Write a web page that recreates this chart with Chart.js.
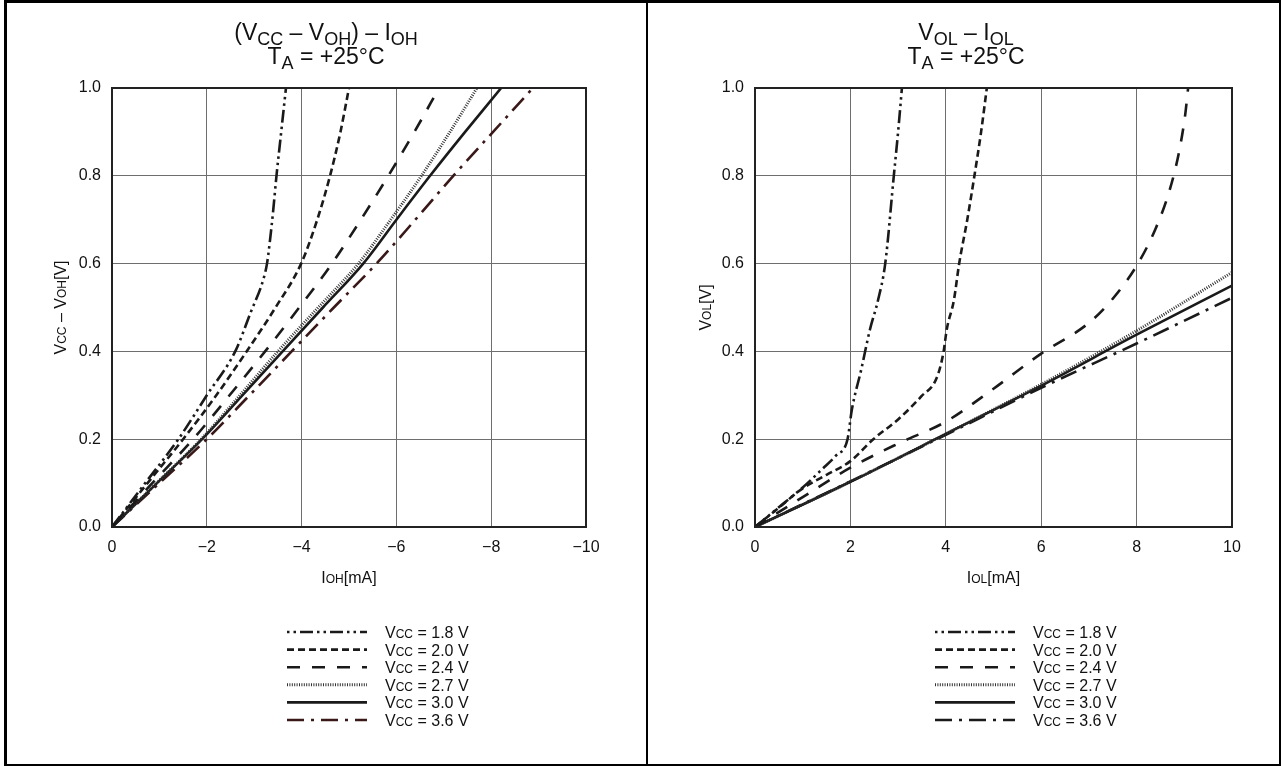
<!DOCTYPE html>
<html>
<head>
<meta charset="utf-8">
<script src="https://cdn.jsdelivr.net/npm/chart.js@4.4.1/dist/chart.umd.min.js"></script>
<style>
  body { margin: 0; background: #fff; }
  canvas { position: absolute; top: 0; }
  #left { left: 0; }
  #right { left: 648px; }
  .frame { position: absolute; background: #000; }
</style>
</head>
<body>
<canvas id="left" width="646" height="766"></canvas>
<canvas id="right" width="634" height="766"></canvas>
<div class="frame" style="left:4px;top:0;width:1277px;height:2.5px"></div>
<div class="frame" style="left:4px;top:763.5px;width:1277px;height:2.5px"></div>
<div class="frame" style="left:4px;top:0;width:2.5px;height:766px"></div>
<div class="frame" style="left:1278.5px;top:0;width:2.5px;height:766px"></div>
<div class="frame" style="left:645.5px;top:0;width:2.5px;height:766px"></div>
<script>
const FONT = '"Liberation Sans", Arial, Helvetica, sans-serif';

const vccLabels = ["1.8", "2.0", "2.4", "2.7", "3.0", "3.6"];
const yTicks = [0, 0.2, 0.4, 0.6, 0.8, 1.0];

// Left panel: (Vcc - Voh) vs Ioh
const vLevels = [0, 0.1, 0.2, 0.3, 0.4, 0.5, 0.6, 0.7, 0.8, 0.9, 1.0];
const ohI18 = [0, -0.7, -1.4, -2.0, -2.6, -2.93, -3.19, -3.27, -3.33, -3.40, -3.47, -3.57, -3.67];
const ohV18 = [0, 0.1, 0.2, 0.3, 0.4, 0.49, 0.563, 0.6, 0.65, 0.72, 0.8, 0.9, 1.0];
const ohI20 = [0, -0.75, -1.5, -2.2, -2.84, -3.45, -3.99, -4.33, -4.6, -4.82, -5.0];
const ohI24 = [0, -0.85, -1.71, -2.48, -3.23, -3.95, -4.64, -5.25, -5.83, -6.38, -6.9];
const ohI27 = [0, -0.94, -1.88, -2.7, -3.5, -4.35, -5.2, -5.88, -6.53, -7.13, -7.7];
const ohI30 = [0, -0.95, -1.9, -2.75, -3.6, -4.45, -5.3, -6.0, -6.71, -7.45, -8.21];
const ohI36 = [0, -1.0, -2.0, -2.9, -3.79, -4.68, -5.58, -6.4, -7.2, -8.04, -8.88];

// Right panel: Vol vs Iol
const olI18 = [0, 0.5, 1.0, 1.4, 1.7, 1.94, 2.03, 2.23, 2.41, 2.58, 2.73, 2.91, 3.0, 3.08];
const olV18 = [0, 0.045, 0.09, 0.131, 0.163, 0.2, 0.267, 0.36, 0.45, 0.517, 0.6, 0.8, 0.9, 1.0];
const olI20 = [0, 0.5, 1.0, 1.5, 2.0, 2.48, 3.0, 3.49, 3.81, 3.95, 4.02, 4.17, 4.28, 4.45, 4.6, 4.74, 4.86];
const olV20 = [0, 0.044, 0.088, 0.119, 0.15, 0.2, 0.245, 0.298, 0.34, 0.397, 0.45, 0.517, 0.6, 0.7, 0.8, 0.9, 1.0];
const olI24 = [0, 1, 2, 3, 4, 5, 6, 7, 7.5, 8, 8.4, 8.7, 8.9, 9.02, 9.08];
const olV24 = [0, 0.068, 0.135, 0.19, 0.24, 0.315, 0.395, 0.465, 0.52, 0.595, 0.68, 0.77, 0.86, 0.94, 1.0];
const olILin = [0, 2, 4, 6, 8, 10];
const olV27 = [0, 0.103, 0.212, 0.325, 0.447, 0.58];
const olV30 = [0, 0.103, 0.212, 0.322, 0.438, 0.55];
const olV36 = [0, 0.104, 0.21, 0.317, 0.418, 0.522];

const lineStyles = [
  { color: "#1a1a1a", width: 2.6, dash: [13, 4, 2.5, 4, 2.5, 4], legendOffset: 17 },
  { color: "#1a1a1a", width: 2.6, dash: [7, 4] },
  { color: "#1a1a1a", width: 2.6, dash: [13, 12] },
  { color: "#333333", width: 3, dash: [1, 1.4] },
  { color: "#1a1a1a", width: 2.6, dash: [] },
  { color: "#1a1a1a", width: 2.6, dash: [17, 7, 3, 7] }
];

function zip(xs, ys) {
  return xs.map((x, i) => ({ x, y: ys[i] }));
}

function makeDatasets(series, lastColor) {
  return series.map((data, i) => {
    const st = lineStyles[i];
    const color = i === 5 && lastColor ? lastColor : st.color;
    return {
      label: `Vcc = ${vccLabels[i]} V`,
      data,
      borderColor: color,
      borderWidth: st.width,
      borderDash: st.dash,
      pointRadius: 0,
      fill: false,
      cubicInterpolationMode: "monotone"
    };
  });
}

// text with subscripts / small caps: runs of [text, size, dy]
function drawRuns(ctx, runs, x, y, align) {
  let w = 0;
  runs.forEach(([t, s]) => {
    ctx.font = `${s}px ${FONT}`;
    w += ctx.measureText(t).width;
  });
  let cx = align === "center" ? x - w / 2 : x;
  runs.forEach(([t, s, dy]) => {
    ctx.font = `${s}px ${FONT}`;
    ctx.fillText(t, cx, y + (dy || 0));
    cx += ctx.measureText(t).width;
  });
}

const decorPlugin = {
  id: "decor",
  afterDraw(chart, args, opts) {
    const { ctx, chartArea: a } = chart;
    ctx.save();
    ctx.fillStyle = "#111";
    ctx.textBaseline = "alphabetic";

    // plot frame
    ctx.strokeStyle = "#222";
    ctx.lineWidth = 2;
    ctx.strokeRect(a.left, a.top, a.right - a.left, a.bottom - a.top);

    // titles
    opts.title.forEach((runs, i) => drawRuns(ctx, runs, opts.titleX, 40 + i * 24, "center"));

    // x axis title
    drawRuns(ctx, opts.xTitle, (a.left + a.right) / 2, 583, "center");

    // y axis title (rotated)
    ctx.save();
    ctx.translate(opts.yTitleX, (a.top + a.bottom) / 2);
    ctx.rotate(-Math.PI / 2);
    drawRuns(ctx, opts.yTitle, 0, 6, "center");
    ctx.restore();

    // legend, one row per dataset
    chart.data.datasets.forEach((ds, i) => {
      const y = opts.legendY + i * opts.legendDy;
      ctx.save();
      ctx.strokeStyle = ds.borderColor;
      ctx.lineWidth = ds.borderWidth;
      ctx.setLineDash(ds.borderDash);
      ctx.lineDashOffset = lineStyles[i].legendOffset || 0;
      ctx.beginPath();
      ctx.moveTo(opts.legendX, y);
      ctx.lineTo(opts.legendX + opts.legendLen, y);
      ctx.stroke();
      ctx.restore();
      drawRuns(ctx, [["V", 16], ["CC", 12], [` = ${vccLabels[i]} V`, 16]], opts.legendTextX, y + 6, "left");
    });
    ctx.restore();
  }
};

function axisOptions(xMin, xMax, reverse) {
  return {
    x: {
      type: "linear",
      min: xMin,
      max: xMax,
      reverse,
      afterFit: (s) => { s.height = 40; },
      border: { display: false },
      grid: { color: "#6e6e6e", lineWidth: 1, drawTicks: false },
      ticks: {
        stepSize: 2,
        padding: 11,
        color: "#111",
        font: { family: FONT, size: 16 },
        callback: (v) => (v < 0 ? "\u2212" + Math.abs(v) : String(v))
      }
    },
    y: {
      type: "linear",
      min: 0,
      max: 1,
      afterFit: (s) => { s.width = 40; },
      afterBuildTicks: (s) => { s.ticks = yTicks.map((v) => ({ value: v })); },
      border: { display: false },
      grid: { color: "#6e6e6e", lineWidth: 1, drawTicks: false },
      ticks: {
        padding: 11,
        color: "#111",
        font: { family: FONT, size: 16 },
        callback: (v) => v.toFixed(1)
      }
    }
  };
}

const T = 23, S = 18, D = 5;

new Chart(document.getElementById("left"), {
  type: "line",
  data: {
    datasets: makeDatasets([
      zip(ohI18, ohV18),
      zip(ohI20, vLevels),
      zip(ohI24, vLevels),
      zip(ohI27, vLevels),
      zip(ohI30, vLevels),
      zip(ohI36, vLevels)
    ], "#3a1818")
  },
  options: {
    responsive: false,
    animation: false,
    layout: { padding: { left: 72, top: 88, right: 60, bottom: 199 } },
    scales: axisOptions(-10, 0, true),
    plugins: {
      legend: { display: false },
      tooltip: { enabled: false },
      decor: {
        titleX: 326,
        title: [
          [["(V", T], ["CC", S, D], [" \u2013 V", T], ["OH", S, D], [") \u2013 I", T], ["OH", S, D]],
          [["T", T], ["A", S, D], [" = +25\u00B0C", T]]
        ],
        xTitle: [["I", 16], ["OH", 12], ["[mA]", 16]],
        yTitle: [["V", 16], ["CC", 12], [" \u2013 V", 16], ["OH", 12], ["[V]", 16]],
        yTitleX: 60,
        legendX: 287,
        legendLen: 80,
        legendTextX: 385,
        legendY: 632,
        legendDy: 17.6
      }
    }
  },
  plugins: [decorPlugin]
});

new Chart(document.getElementById("right"), {
  type: "line",
  data: {
    datasets: makeDatasets([
      zip(olI18, olV18),
      zip(olI20, olV20),
      zip(olI24, olV24),
      zip(olILin, olV27),
      zip(olILin, olV30),
      zip(olILin, olV36)
    ])
  },
  options: {
    responsive: false,
    animation: false,
    layout: { padding: { left: 67, top: 88, right: 50, bottom: 199 } },
    scales: axisOptions(0, 10, false),
    plugins: {
      legend: { display: false },
      tooltip: { enabled: false },
      decor: {
        titleX: 318,
        title: [
          [["V", T], ["OL", S, D], [" \u2013 I", T], ["OL", S, D]],
          [["T", T], ["A", S, D], [" = +25\u00B0C", T]]
        ],
        xTitle: [["I", 16], ["OL", 12], ["[mA]", 16]],
        yTitle: [["V", 16], ["OL", 12], ["[V]", 16]],
        yTitleX: 57,
        legendX: 287,
        legendLen: 80,
        legendTextX: 385,
        legendY: 632,
        legendDy: 17.6
      }
    }
  },
  plugins: [decorPlugin]
});
</script>
</body>
</html>
